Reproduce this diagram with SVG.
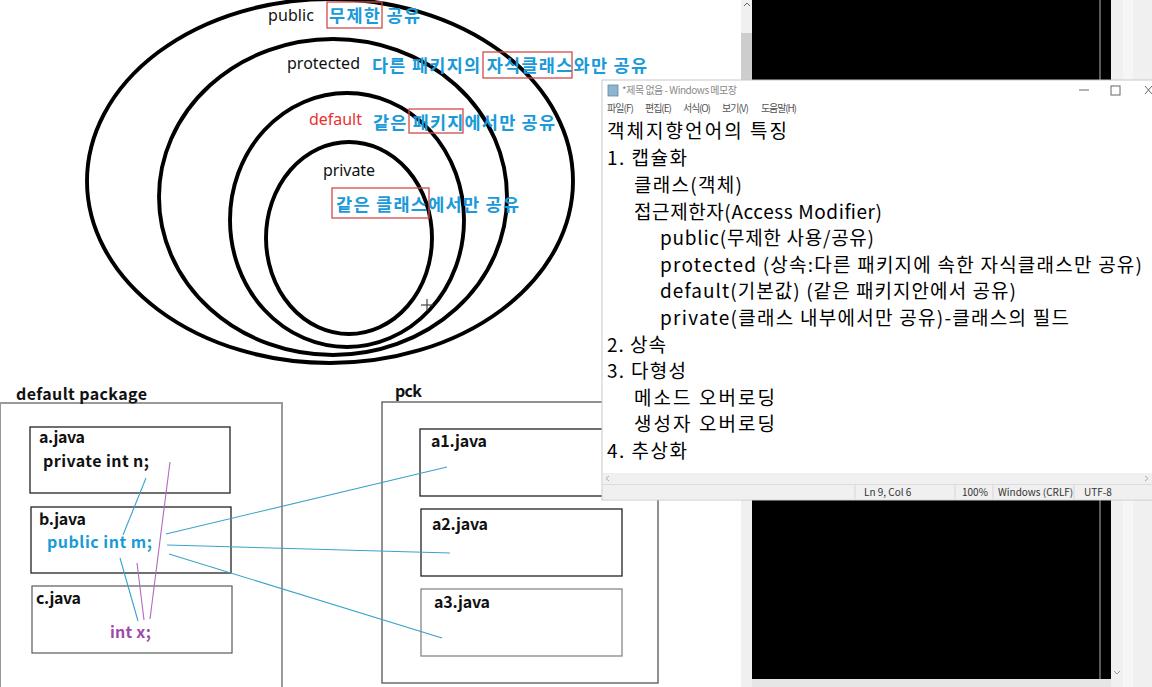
<svg xmlns="http://www.w3.org/2000/svg" width="1152" height="687" viewBox="0 0 1152 687">
<style>
.ring{fill:none;stroke:#000;stroke-width:3.9}
.en{font-family:"Noto Sans","Open Sans",sans-serif;font-size:16px;fill:#111}
.kb{font-family:"Noto Sans CJK KR","Noto Sans",sans-serif;font-size:17.5px;font-weight:bold;fill:#1a9ad8}
.rbox{fill:none;stroke:#d24a4a;stroke-width:1.3}
.lbl{font-family:"Noto Sans CJK KR","Noto Sans",sans-serif;font-size:16px;font-weight:bold;fill:#111}
.box{fill:#fff;stroke:#222;stroke-width:1.3}
.boxg{fill:none;stroke:#999;stroke-width:2}
.np{font-family:"Noto Sans CJK KR","Noto Sans",sans-serif;font-size:19px;fill:#000}
.ui{font-family:"Noto Sans CJK KR","Noto Sans",sans-serif;font-size:10px;fill:#555}
.bl{stroke:#3aa2c9;stroke-width:1.1;fill:none}
.pl{stroke:#b06ac0;stroke-width:1.1;fill:none}
</style>
<rect width="1152" height="687" fill="#fff"/>

<g id="ring-public">
<ellipse class="ring" cx="330" cy="181" rx="243" ry="182"/>
<text class="en" x="268" y="21" textLength="46">public</text>
<text class="kb" x="329" y="22" textLength="91">무제한 공유</text>
<rect class="rbox" x="327" y="2" width="55" height="26"/>
</g>
<g id="ring-protected">
<ellipse class="ring" cx="333" cy="197" rx="174" ry="158"/>
<text class="en" x="287" y="69" textLength="73">protected</text>
<text class="kb" x="372" y="72" textLength="275">다른 패키지의 자식클래스와만 공유</text>
<rect class="rbox" x="483" y="52" width="89" height="26"/>
</g>
<g id="ring-default">
<ellipse class="ring" cx="347" cy="220" rx="117" ry="127"/>
<text class="en" x="309" y="125" textLength="53" style="fill:#e8322e">default</text>
<text class="kb" x="373" y="129" textLength="182">같은 패키지에서만 공유</text>
<rect class="rbox" x="409" y="109" width="54" height="24"/>
</g>
<g id="ring-private">
<ellipse class="ring" cx="349" cy="238" rx="83" ry="96"/>
<text class="en" x="323" y="176" textLength="52">private</text>
<text class="kb" x="336" y="211" textLength="183">같은 클래스에서만 공유</text>
<rect class="rbox" x="332" y="188" width="97" height="30"/>
</g>
<g id="cursor" stroke="#444" stroke-width="1.2">
<line x1="421" y1="305" x2="433" y2="305"/>
<line x1="427" y1="299" x2="427" y2="311"/>
</g>

<g id="default-package">
<rect class="boxg" x="0" y="403" width="282" height="290"/>
<text class="lbl" x="16" y="400" textLength="131">default package</text>
</g>
<g id="a-java">
<rect class="box" x="30" y="427" width="200" height="66"/>
<text class="lbl" x="39" y="443" textLength="46">a.java</text>
<text class="lbl" x="43" y="467" textLength="106">private int n;</text>
</g>
<g id="b-java">
<rect class="box" x="31" y="507" width="200" height="66"/>
<text class="lbl" x="39" y="525" textLength="47">b.java</text>
<text class="lbl" x="47" y="548" textLength="105" style="fill:#1a9ad8">public int m;</text>
</g>
<g id="c-java">
<rect class="box" x="32" y="586" width="200" height="67" style="stroke:#666"/>
<text class="lbl" x="36" y="604" textLength="45">c.java</text>
<text class="lbl" x="110" y="638" textLength="41" style="fill:#a04aa8">int x;</text>
</g>

<g id="pck">
<rect x="382" y="402" width="276" height="281" fill="none" stroke="#555" stroke-width="1.3"/>
<text class="lbl" x="395" y="397" textLength="27">pck</text>
</g>
<g id="a1-java">
<rect class="box" x="420" y="429" width="202" height="67"/>
<text class="lbl" x="431" y="447" textLength="56">a1.java</text>
</g>
<g id="a2-java">
<rect class="box" x="421" y="509" width="201" height="67"/>
<text class="lbl" x="432" y="530" textLength="56">a2.java</text>
</g>
<g id="a3-java">
<rect class="box" x="421" y="589" width="201" height="67" style="stroke:#888"/>
<text class="lbl" x="434" y="608" textLength="56">a3.java</text>
</g>

<g id="connectors">
<line class="bl" x1="146" y1="478" x2="123" y2="535"/>
<line class="pl" x1="170" y1="462" x2="150" y2="619"/>
<line class="bl" x1="120" y1="558" x2="138" y2="621"/>
<line class="pl" x1="137" y1="563" x2="144" y2="620"/>
<line class="bl" x1="166" y1="534" x2="447" y2="467"/>
<line class="bl" x1="167" y1="545" x2="450" y2="553"/>
<line class="bl" x1="169" y1="554" x2="442" y2="638"/>
</g>

<g id="background-window">
<rect x="741" y="0" width="11" height="33" fill="#f0f0f0"/>
<rect x="741" y="33" width="11" height="47" fill="#cdcdcd"/>
<path d="M744 6 L747 3 L750 6" fill="none" stroke="#666" stroke-width="1"/>
<rect x="741" y="500" width="11" height="187" fill="#f0f0f0"/>
<rect x="752" y="0" width="359" height="679" fill="#000"/>
<rect x="1099" y="0" width="2" height="679" fill="#5a5a5a"/>
<rect x="1111" y="0" width="41" height="687" fill="#f0f0f0"/>
<rect x="1123" y="0" width="10" height="687" fill="#f6f6f6"/>
<rect x="752" y="679" width="359" height="8" fill="#e6e6e6"/>
<path d="M1114 671 L1117 674 L1120 671" fill="none" stroke="#999" stroke-width="1"/>
</g>

<g id="notepad">
<rect x="602" y="80" width="560" height="420" fill="#fff" stroke="#c8c8c8" stroke-width="1"/>
<rect x="608" y="85" width="10" height="11" fill="#8fb4cf" stroke="#5d89a8" stroke-width="0.8"/>
<text class="ui" x="622" y="94" textLength="115" style="fill:#8a8a8a">*제목 없음 - Windows 메모장</text>
<line x1="1079" y1="90" x2="1089" y2="90" stroke="#666" stroke-width="1"/>
<rect x="1111" y="86" width="9" height="9" fill="none" stroke="#666" stroke-width="1"/>
<path d="M1145 86 L1152 94 M1145 94 L1152 86" stroke="#666" stroke-width="1"/>
<text class="ui" x="607" y="112" textLength="27">파일(F)</text>
<text class="ui" x="645" y="112" textLength="27">편집(E)</text>
<text class="ui" x="683" y="112" textLength="28">서식(O)</text>
<text class="ui" x="722" y="112" textLength="27">보기(V)</text>
<text class="ui" x="761" y="112" textLength="36">도움말(H)</text>
<text class="np" x="607" y="138" textLength="180">객체지향언어의 특징</text>
<text class="np" x="607" y="165" textLength="80">1. 캡슐화</text>
<text class="np" x="634" y="192" textLength="108">클래스(객체)</text>
<text class="np" x="634" y="219" textLength="248">접근제한자(Access Modifier)</text>
<text class="np" x="660" y="245" textLength="214">public(무제한 사용/공유)</text>
<text class="np" x="660" y="272" textLength="482">protected (상속:다른 패키지에 속한 자식클래스만 공유)</text>
<text class="np" x="660" y="298" textLength="356">default(기본값) (같은 패키지안에서 공유)</text>
<text class="np" x="660" y="325" textLength="409">private(클래스 내부에서만 공유)-클래스의 필드</text>
<text class="np" x="607" y="352" textLength="59">2. 상속</text>
<text class="np" x="607" y="378" textLength="79">3. 다형성</text>
<text class="np" x="634" y="405" textLength="141">메소드 오버로딩</text>
<text class="np" x="634" y="431" textLength="141">생성자 오버로딩</text>
<text class="np" x="607" y="458" textLength="80">4. 추상화</text>
<rect x="603" y="473" width="549" height="11" fill="#f0f0f0"/>
<path d="M609 476 L606 478.5 L609 481" fill="none" stroke="#aaa" stroke-width="1"/>
<path d="M1145 476 L1148 478.5 L1145 481" fill="none" stroke="#aaa" stroke-width="1"/>
<rect x="603" y="484" width="549" height="15" fill="#f0f0f0"/>
<line x1="603" y1="484.5" x2="1152" y2="484.5" stroke="#dcdcdc"/>
<g stroke="#d6d6d6" stroke-width="1">
<line x1="855" y1="485" x2="855" y2="499"/>
<line x1="955" y1="485" x2="955" y2="499"/>
<line x1="993" y1="485" x2="993" y2="499"/>
<line x1="1074" y1="485" x2="1074" y2="499"/>
</g>
<text class="ui" x="864" y="496" style="fill:#333">Ln 9, Col 6</text>
<text class="ui" x="962" y="496" style="fill:#333">100%</text>
<text class="ui" x="998" y="496" style="fill:#333">Windows (CRLF)</text>
<text class="ui" x="1084" y="496" style="fill:#333">UTF-8</text>
</g>
</svg>
